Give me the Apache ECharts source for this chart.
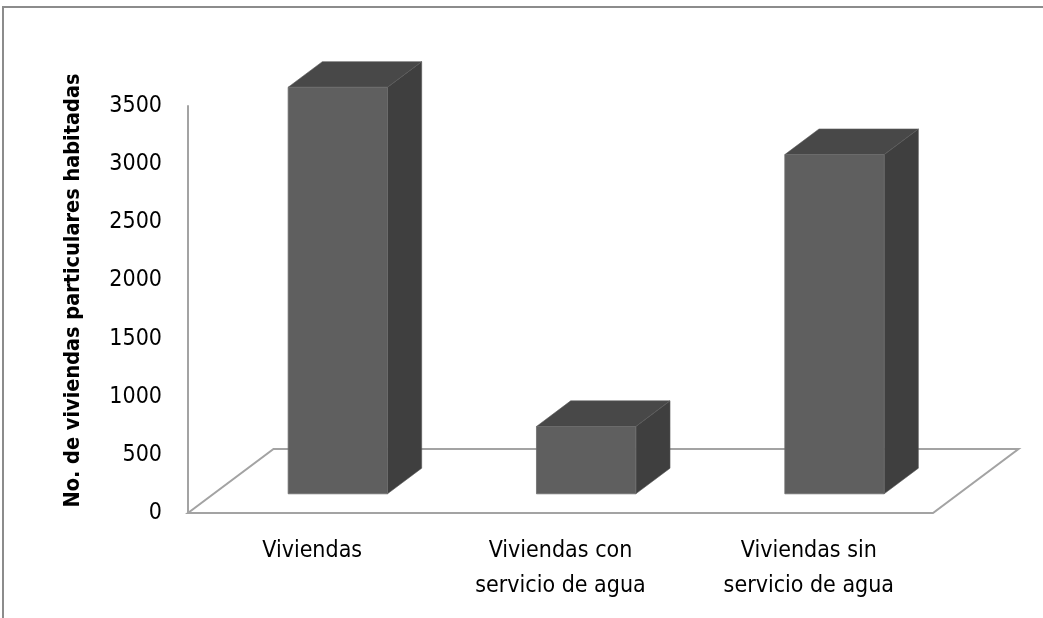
<!DOCTYPE html>
<html>
<head>
<meta charset="utf-8">
<style>
  html, body { margin: 0; padding: 0; background: #ffffff; }
  #chart { width: 1043px; height: 618px; }
</style>
<script src="https://cdn.jsdelivr.net/npm/echarts@6/dist/echarts.min.js"></script>
</head>
<body>
<div id="chart"></div>
<script>
// Occupied private dwellings, by access to piped water
const categories = ['Viviendas', 'Viviendas con\nservicio de agua', 'Viviendas sin\nservicio de agua'];
const values = [3496, 579, 2917];
const yMin = 0;
const yMax = 3500;
const yStep = 500;
const yTitle = 'No. de viviendas particulares habitadas';

const FONT = "'DejaVu Sans Condensed', 'Liberation Sans Narrow', 'DejaVu Sans', sans-serif";

// pseudo-3D floor depth (pixels) and box proportions within it
const DEPTH_X = 85.5;
const DEPTH_Y = 64;
const FRONT_FRAC = 0.30;   // where the box front sits inside the floor depth
const BOX_FRAC = 0.40;     // how deep each box is
const BAR_WIDTH_FRAC = 0.40;

const chart = echarts.init(document.getElementById('chart'), null, { renderer: 'canvas' });

function renderFloor(params, api) {
  const cs = params.coordSys;
  const x = cs.x, y = cs.y + cs.height, w = cs.width;
  return {
    type: 'polygon',
    shape: { points: [[x, y], [x + w, y], [x + w + DEPTH_X, y - DEPTH_Y], [x + DEPTH_X, y - DEPTH_Y]] },
    style: { fill: 'none', stroke: '#a3a3a3', lineWidth: 2 }
  };
}

function renderBox(params, api) {
  const idx = api.value(0);
  const base = api.coord([idx, 0]);
  const top = api.coord([idx, api.value(1)]);
  const bw = api.size([1, 0])[0] * BAR_WIDTH_FRAC;
  const x0 = base[0] - bw / 2 + FRONT_FRAC * DEPTH_X;
  const y0 = base[1] - FRONT_FRAC * DEPTH_Y;
  const yT = top[1] - FRONT_FRAC * DEPTH_Y;
  const dx = BOX_FRAC * DEPTH_X;
  const dy = BOX_FRAC * DEPTH_Y;
  return {
    type: 'group',
    children: [
      {
        type: 'polygon',
        shape: { points: [[x0 + bw, yT], [x0 + bw + dx, yT - dy], [x0 + bw + dx, y0 - dy], [x0 + bw, y0]] },
        style: { fill: '#3f3f3f', stroke: '#555555', lineWidth: 0.6 }
      },
      {
        type: 'polygon',
        shape: { points: [[x0, yT], [x0 + bw, yT], [x0 + bw + dx, yT - dy], [x0 + dx, yT - dy]] },
        style: { fill: '#484848', stroke: '#5a5a5a', lineWidth: 0.6 }
      },
      {
        type: 'rect',
        shape: { x: x0, y: yT, width: bw, height: y0 - yT },
        style: { fill: '#5f5f5f', stroke: '#6c6c6c', lineWidth: 0.8 }
      }
    ]
  };
}

chart.setOption({
  animation: false,
  backgroundColor: '#ffffff',
  graphic: [{
    type: 'rect',
    shape: { x: 3, y: 7, width: 1100, height: 700 },
    style: { fill: 'none', stroke: '#8c8c8c', lineWidth: 2 },
    silent: true
  }],
  grid: { left: 188, right: 110, top: 106, bottom: 105, containLabel: false },
  xAxis: {
    type: 'category',
    data: categories,
    axisLine: { show: false },
    axisTick: { show: false },
    axisLabel: {
      margin: 21,
      fontFamily: FONT,
      fontSize: 23,
      lineHeight: 35,
      color: '#000000',
      interval: 0
    }
  },
  yAxis: {
    type: 'value',
    min: yMin,
    max: yMax,
    interval: yStep,
    name: yTitle,
    nameLocation: 'middle',
    nameRotate: 90,
    nameGap: 104,
    nameTextStyle: {
      fontFamily: FONT, fontSize: 21.5, fontWeight: 'bold', color: '#000000',
      padding: [0, 0, 0, 38]
    },
    axisLine: { show: true, lineStyle: { color: '#a3a3a3', width: 2 } },
    axisTick: { show: false },
    splitLine: { show: false },
    axisLabel: {
      margin: 26, fontFamily: FONT, fontSize: 23, color: '#000000',
      formatter: (v) => String(v)
    }
  },
  series: [
    {
      type: 'custom',
      name: 'floor',
      data: [[0, 0]],
      renderItem: renderFloor,
      clip: false,
      silent: true,
      z: 1
    },
    {
      type: 'custom',
      name: 'Viviendas',
      data: values.map((v, i) => [i, v]),
      encode: { x: 0, y: 1 },
      renderItem: renderBox,
      clip: false,
      z: 2
    }
  ]
});
</script>
</body>
</html>
